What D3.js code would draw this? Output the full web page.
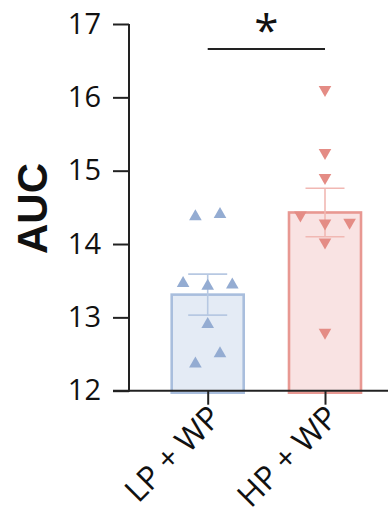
<!DOCTYPE html>
<html>
<head>
<meta charset="utf-8">
<script src="https://cdn.jsdelivr.net/npm/d3@7"></script>
<style>
  html, body { margin: 0; padding: 0; background: #fff; }
  svg { display: block; }
</style>
</head>
<body>
<svg id="chart" width="388" height="519"></svg>
<script>
// data
const groups = ['LP + WP', 'HP + WP']
const means = [13.31, 14.43]
const sems = [0.28, 0.33]
const lpValues = [14.40, 14.43, 13.49, 13.45, 13.47, 12.93, 12.53, 12.39]
const hpValues = [16.08, 15.22, 14.88, 14.37, 14.26, 14.27, 14.00, 12.77]
// jitter slot of each point (left / centre / right)
const lpSlots = [-1, 1, -2, 0, 2, 0, 1, -1]
const hpSlots = [0, 0, 0, -2, 0, 2, 0, 0]
const yTicks = [12, 13, 14, 15, 16, 17]

const colors = [
  { fill: '#e4ebf5', stroke: '#a9bedd', point: '#94acd2', err: '#b7c8e2' },
  { fill: '#f9e3e3', stroke: '#e89892', point: '#e48c85', err: '#f1b8b3' }
]

const svg = d3.select('#chart')
const font = '"Open Sans", "DejaVu Sans", sans-serif'

// scales
let y = d3.scaleLinear().domain([12, 17]).range([390.7, 24])
let x = d3.scalePoint().domain(groups).range([207.7, 325])
let barW = 72
let slotW = 12.3

// bars
groups.forEach((g, i) => {
  let c = colors[i]
  svg.append('rect')
     .attr('x', x(g) - barW / 2)
     .attr('y', y(means[i]))
     .attr('width', barW)
     .attr('height', y(12) - y(means[i]) + 2)
     .attr('fill', c.fill)
     .attr('stroke', c.stroke)
     .attr('stroke-width', 2.6)
})

// 误差线
groups.forEach((g, i) => {
  let c = colors[i]
  let cx = x(g)
  let top = y(means[i] + sems[i])
  let bot = y(means[i] - sems[i])
  let e = svg.append('g').attr('stroke', c.err).attr('stroke-width', 1.6)
  e.append('line').attr('x1', cx).attr('x2', cx).attr('y1', top).attr('y2', bot)
  e.append('line').attr('x1', cx - 19.5).attr('x2', cx + 19.5).attr('y1', top).attr('y2', top)
  e.append('line').attr('x1', cx - 19.5).attr('x2', cx + 19.5).attr('y1', bot).attr('y2', bot)
})

// 三角形点
let tw = 6.3, th = 5.5
let triUp = `M0,${-th}L${tw},${th}L${-tw},${th}Z`
let triDown = `M0,${th}L${tw},${-th}L${-tw},${-th}Z`

svg.append('g').selectAll('path')
   .data(lpValues)
   .join('path')
   .attr('d', triUp)
   .attr('fill', colors[0].point)
   .attr('transform', (d, i) => `translate(${x(groups[0]) + lpSlots[i] * slotW},${y(d)})`)

svg.append('g').selectAll('path')
   .data(hpValues)
   .join('path')
   .attr('d', triDown)
   .attr('fill', colors[1].point)
   .attr('transform', (d, i) => `translate(${x(groups[1]) + hpSlots[i] * slotW},${y(d)})`)

// y axis
let yAxis = svg.append('g')
   .attr('transform', 'translate(129,0)')
   .call(d3.axisLeft(y).tickValues(yTicks).tickSize(16).tickPadding(12).tickFormat(d3.format('d')))
yAxis.select('.domain').attr('stroke', '#222').attr('stroke-width', 2).attr('d', `M0,${y(17)}V${y(12) + 1}`)
yAxis.selectAll('.tick line').attr('stroke', '#222').attr('stroke-width', 2)
yAxis.selectAll('.tick text')
     .attr('fill', '#111')
     .style('font-family', font)
     .style('font-size', '29px')

// x axis
let xAxis = svg.append('g')
   .attr('transform', `translate(0,${y(12)})`)
   .call(d3.axisBottom(x).tickSize(14).tickPadding(4))
xAxis.select('.domain').attr('stroke', '#222').attr('stroke-width', 2).attr('d', 'M113,0H388')
xAxis.selectAll('.tick line').attr('stroke', '#222').attr('stroke-width', 2)
xAxis.selectAll('.tick text')
     .attr('fill', '#111')
     .style('font-family', font)
     .style('font-size', '32px')
     .attr('text-anchor', 'end')
     .attr('dy', 0)
     .attr('transform', 'translate(2,16) rotate(-45)')

// y title
svg.append('text')
   .attr('transform', 'translate(47,208.5) rotate(-90)')
   .attr('text-anchor', 'middle')
   .style('font-family', '"Liberation Sans", Arial, sans-serif')
   .style('font-weight', 'bold')
   .style('font-size', '42px')
   .attr('fill', '#111')
   .text('AUC')

// significance
svg.append('line')
   .attr('x1', x(groups[0])).attr('x2', x(groups[1]))
   .attr('y1', 49).attr('y2', 49)
   .attr('stroke', '#222').attr('stroke-width', 2)
svg.append('text')
   .attr('x', (x(groups[0]) + x(groups[1])) / 2)
   .attr('y', 46)
   .attr('text-anchor', 'middle')
   .style('font-family', font)
   .style('font-size', '44px')
   .attr('fill', '#111')
   .text('*')
</script>
</body>
</html>
